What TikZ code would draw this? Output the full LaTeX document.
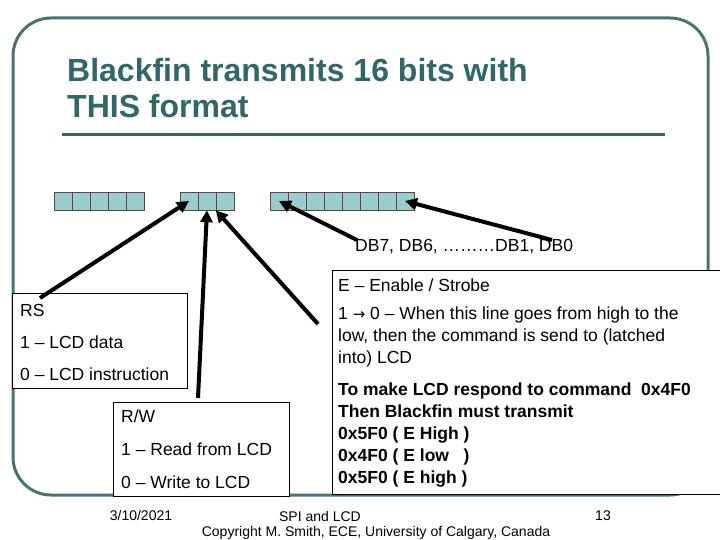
\documentclass[tikz,border=0pt]{standalone}
\usepackage{fontspec}
\setmainfont{Liberation Sans}
\newfontfamily\djv{DejaVu Sans}
\usetikzlibrary{arrows.meta}
\definecolor{frame}{HTML}{4A7272}
\definecolor{ttl}{HTML}{336666}
\definecolor{cell}{HTML}{99CCCC}
\begin{document}
\begin{tikzpicture}[x=1pt,y=-1pt,
  cellst/.style={draw=black!70,fill=cell,line width=0.5pt,minimum width=18pt,minimum height=18pt,inner sep=0},
  arr/.style={line width=4pt,-{Triangle[length=12pt,width=12pt]}},
  txt/.style={font=\fontsize{17.5}{22}\selectfont,anchor=west,inner sep=0},
  foot/.style={font=\fontsize{14}{15}\selectfont},
  boxst/.style={draw=black,line width=0.6pt}]
\useasboundingbox (0,0) rectangle (720,540);
\draw[frame,line width=3pt,rounded corners=38pt] (13,18) rectangle (708,495);
\node[anchor=west,text=ttl,font=\bfseries\fontsize{32}{36}\selectfont,align=left,inner sep=0] (title) at (67,88) {Blackfin transmits 16 bits with\\THIS format};
\draw[ttl,line width=3pt] (62,135) -- (665,135);
\foreach \i in {0,...,4}{\node[cellst] (a\i) at (63+18*\i,201) {};}
\foreach \i in {0,...,2}{\node[cellst] (b\i) at (189+18*\i,201) {};}
\foreach \i in {0,...,7}{\node[cellst] (c\i) at (279+18*\i,201) {};}
\draw[boxst,fill=white] (12,293) rectangle (187,388);
\node[txt] (rs) at (20,310) {RS};
\node[txt] at (20,342) {1 – LCD data};
\node[txt] at (20,374) {0 – LCD instruction};
\draw[boxst,fill=white] (113,402) rectangle (289,496);
\node[txt] (rw) at (121,416) {R/W};
\node[txt] at (121,449) {1 – Read from LCD};
\node[txt] at (121,482) {0 – Write to LCD};
\draw[boxst,fill=white] (720,270) -- (332,270) -- (332,494) -- (720,494);
\node[txt] (e) at (338,285) {E – Enable / Strobe};
\node[txt,align=left,anchor=north west] at (338,307) {1 {\djv\fontsize{15}{22}\selectfont →} 0 – When this line goes from high to the\\low, then the command is send to (latched\\into) LCD};
\node[txt,align=left,anchor=north west,font=\bfseries\fontsize{17.5}{21.8}\selectfont] at (338,383) {To make LCD respond to command~ 0x4F0\\Then Blackfin must transmit\\0x5F0 ( E High )\\0x4F0 ( E low~~ )\\0x5F0 ( E high )};
\node[txt] (db) at (355,247) {DB7, DB6, \dots\dots\dots DB1, DB0};
\coordinate (s1) at (40,298);
\coordinate (s2) at (198,398);
\coordinate (s3) at (318,324);
\coordinate (s4) at (357,240);
\coordinate (s5) at (552,240);
\draw[arr] (s1) -- (b0.center);
\draw[arr] (s2) -- (b1.south);
\draw[arr] (s3) -- (b2.south west);
\draw[arr] (s4) -- (c0.center);
\draw[arr] (s5) -- (c7.center);
\node[foot] (d) at (141,515) {3/10/2021};
\node[foot] (f) at (320,516) {SPI and LCD};
\node[foot] (n) at (603,516) {13};
\node[foot] (cp) at (376,533) {Copyright M. Smith, ECE, University of Calgary, Canada};
\end{tikzpicture}
\end{document}
